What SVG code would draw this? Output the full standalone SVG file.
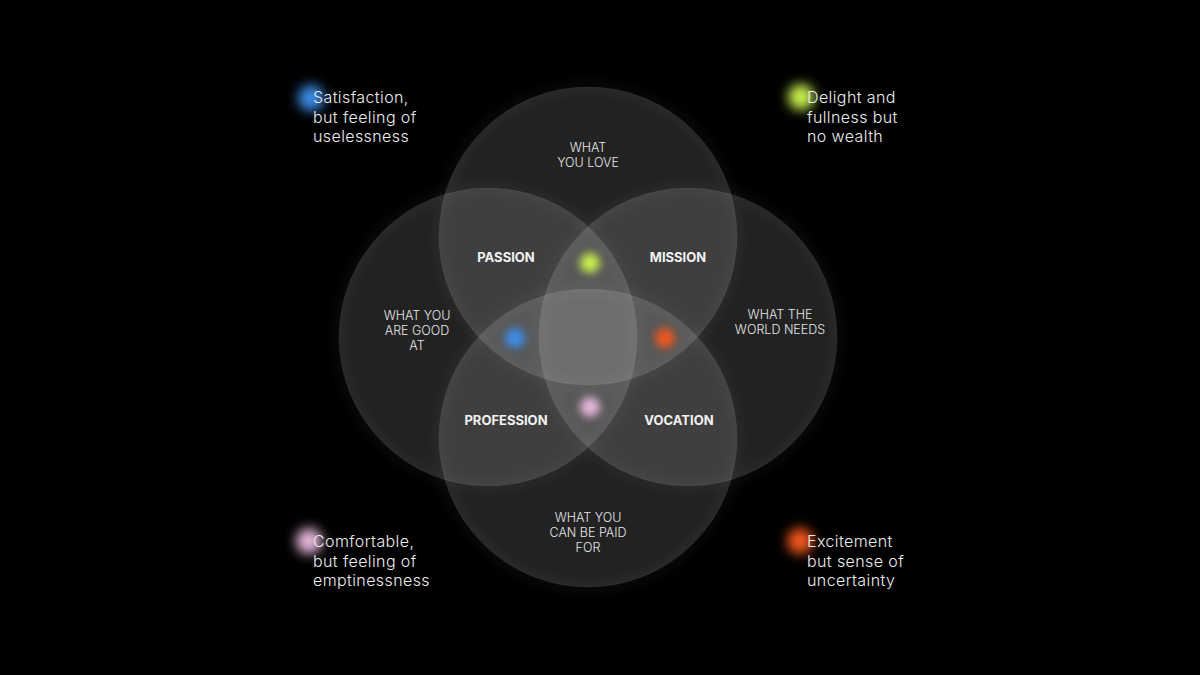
<svg xmlns="http://www.w3.org/2000/svg" width="1200" height="675" viewBox="0 0 1200 675">
<defs>
<style>
.c{fill:#ffffff;fill-opacity:0.135;stroke:#ffffff;stroke-opacity:0.06;stroke-width:1}
.halo{fill:none;stroke:#ffffff;stroke-opacity:0.05;stroke-width:8}
.lab{font-family:Inter,"Liberation Sans",sans-serif;font-size:12.5px;font-weight:300;fill:#e6e6e6;text-anchor:middle}
.b{font-family:Inter,"Liberation Sans",sans-serif;font-size:13px;font-weight:700;fill:#f2f2f2;text-anchor:middle}
.leg{font-family:Inter,"Liberation Sans",sans-serif;font-size:16px;font-weight:300;fill:#ececec;letter-spacing:0.4px}
</style>
<filter id="hb" x="-20%" y="-20%" width="140%" height="140%"><feGaussianBlur stdDeviation="6"/></filter>
<filter id="d1" x="-200%" y="-200%" width="500%" height="500%"><feGaussianBlur stdDeviation="4.5"/></filter>
<filter id="d2" x="-200%" y="-200%" width="500%" height="500%"><feGaussianBlur stdDeviation="6"/></filter>
</defs>
<rect width="1200" height="675" fill="#000"/>
<g id="halos" filter="url(#hb)">
<circle class="halo" cx="588" cy="236" r="149"/>
<circle class="halo" cx="488" cy="337" r="149"/>
<circle class="halo" cx="688" cy="337" r="149"/>
<circle class="halo" cx="588" cy="438" r="149"/>
</g>
<g id="love"><circle class="c" cx="588" cy="236" r="149"/>
<text class="lab" x="588" y="152">WHAT</text><text class="lab" x="588" y="167">YOU LOVE</text></g>
<g id="good"><circle class="c" cx="488" cy="337" r="149"/>
<text class="lab" x="417" y="320">WHAT YOU</text><text class="lab" x="417" y="335">ARE GOOD</text><text class="lab" x="417" y="350">AT</text></g>
<g id="needs"><circle class="c" cx="688" cy="337" r="149"/>
<text class="lab" x="780" y="319">WHAT THE</text><text class="lab" x="780" y="334">WORLD NEEDS</text></g>
<g id="paid"><circle class="c" cx="588" cy="438" r="149"/>
<text class="lab" x="588" y="522">WHAT YOU</text><text class="lab" x="588" y="537">CAN BE PAID</text><text class="lab" x="588" y="552">FOR</text></g>
<g id="passion"><text class="b" x="506" y="262">PASSION</text><circle cx="590" cy="263" r="10" fill="#c8f050" filter="url(#d1)"/></g>
<g id="mission"><text class="b" x="678" y="262">MISSION</text><circle cx="665" cy="338" r="10" fill="#f0561e" filter="url(#d1)"/></g>
<g id="profession"><text class="b" x="506" y="425">PROFESSION</text><circle cx="590" cy="407" r="10" fill="#e6b8dc" filter="url(#d1)"/></g>
<g id="vocation"><text class="b" x="679" y="425">VOCATION</text><circle cx="515" cy="338" r="10" fill="#3c8ce8" filter="url(#d1)"/></g>
<g id="connectors"></g>
<g id="leg-tl"><circle cx="311" cy="98" r="13" fill="#3c8ce8" filter="url(#d2)"/>
<text class="leg" x="313" y="103">Satisfaction,</text><text class="leg" x="313" y="123">but feeling of</text><text class="leg" x="313" y="142">uselessness</text></g>
<g id="leg-tr"><circle cx="801" cy="97" r="13" fill="#c8f050" filter="url(#d2)"/>
<text class="leg" x="807" y="103">Delight and</text><text class="leg" x="807" y="123">fullness but</text><text class="leg" x="807" y="142">no wealth</text></g>
<g id="leg-bl"><circle cx="309" cy="541" r="13" fill="#e6b8dc" filter="url(#d2)"/>
<text class="leg" x="313" y="547">Comfortable,</text><text class="leg" x="313" y="567">but feeling of</text><text class="leg" x="313" y="586">emptinessness</text></g>
<g id="leg-br"><circle cx="800" cy="541" r="13" fill="#f0561e" filter="url(#d2)"/>
<text class="leg" x="807" y="547">Excitement</text><text class="leg" x="807" y="567">but sense of</text><text class="leg" x="807" y="586">uncertainty</text></g>
</svg>
